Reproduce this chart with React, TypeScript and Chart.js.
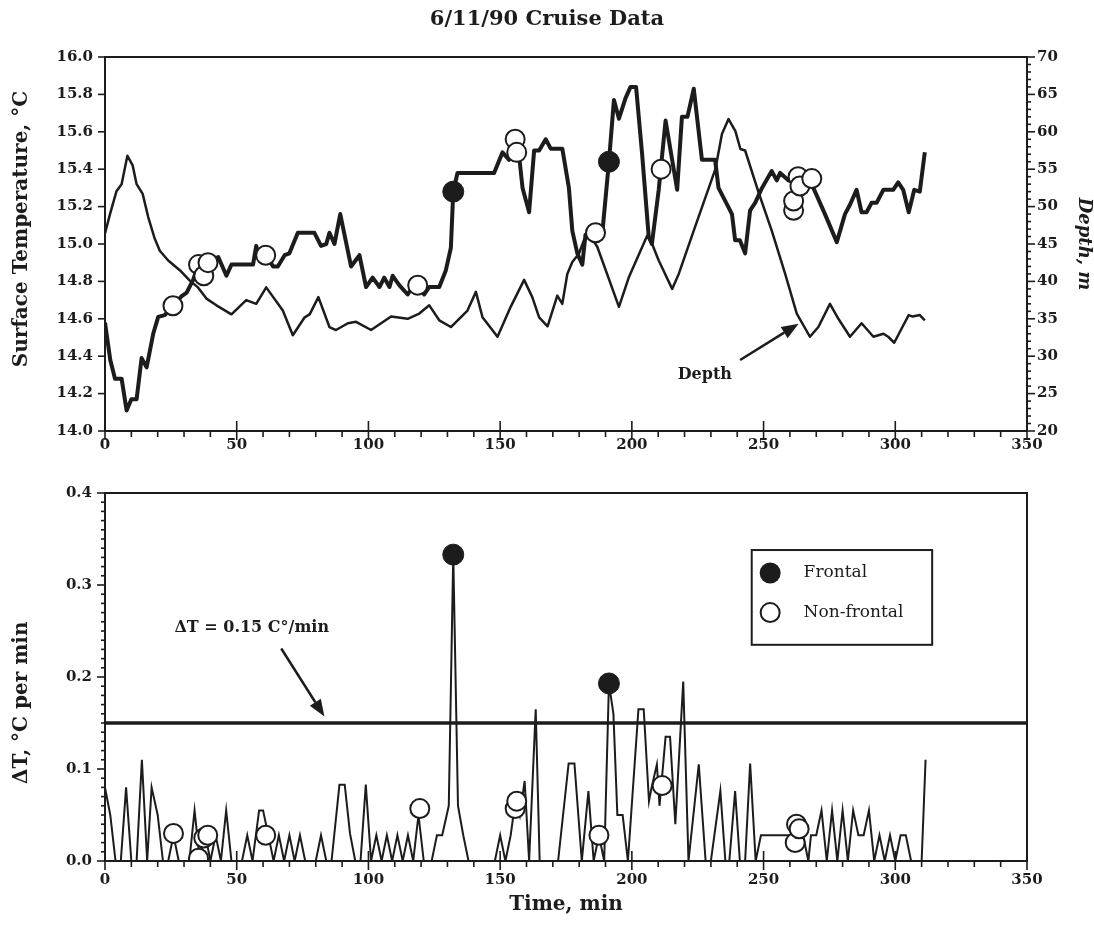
import React, { useEffect, useRef } from 'react';
import { Chart, registerables } from 'chart.js';
Chart.register(...registerables);

const INK = '#1c1c1c';
const SERIF = "'DejaVu Serif', 'Liberation Serif', serif";

// ---------- Top panel: surface temperature (°C) ----------
const tempTime = [0,2,3.8,6.3,8.2,10,12,13.9,15.8,18.3,20.2,22.7,25.8,29,31,33.5,35.5,37.5,39.1,41,43,46.1,48,56.2,57.4,58.7,61,63.8,65.6,68.2,70,73.2,79.5,82,84,85.2,87.1,89.3,93.4,96.6,99.1,101.6,104.2,106,108,109.2,111.7,114.9,116.8,118.7,121.2,123.1,126.9,129.4,131.3,132.2,133.8,147.7,150.9,153.4,155.7,156.3,157.2,158.5,161,162.9,164.8,167.3,169.2,173.6,176.1,177.4,179.3,181.2,182.4,185,188.8,191.3,193.2,195.1,197.6,199.5,201.6,203.9,206.4,207.6,210.2,212.8,217.2,219,221.1,223.5,226.6,231.6,232.9,238,239.2,241,243,244.9,246.8,249.4,253.1,255,256.3,259.5,263,266,268.9,273.3,277.8,280.9,282.8,285.3,287.2,289.1,291,292.9,295.5,299.2,301.1,303,305.1,307.2,309.3,311.2];
const tempValue = [14.58,14.38,14.28,14.28,14.11,14.17,14.17,14.39,14.34,14.52,14.61,14.62,14.67,14.72,14.74,14.81,14.89,14.85,14.90,14.92,14.93,14.83,14.89,14.89,14.99,14.92,14.94,14.88,14.88,14.94,14.95,15.06,15.06,14.99,15.0,15.06,15.0,15.16,14.88,14.94,14.77,14.82,14.77,14.82,14.77,14.83,14.78,14.73,14.77,14.78,14.73,14.77,14.77,14.86,14.98,15.28,15.38,15.38,15.49,15.45,15.55,15.49,15.47,15.30,15.17,15.50,15.50,15.56,15.51,15.51,15.30,15.07,14.95,14.89,15.05,15.05,15.06,15.44,15.77,15.67,15.78,15.84,15.84,15.48,15.04,15.00,15.29,15.66,15.29,15.68,15.68,15.83,15.45,15.45,15.30,15.16,15.02,15.02,14.95,15.18,15.22,15.30,15.39,15.34,15.38,15.34,15.33,15.33,15.30,15.16,15.01,15.16,15.21,15.29,15.17,15.17,15.22,15.22,15.29,15.29,15.33,15.29,15.17,15.29,15.28,15.49];

// Depth (m), right axis
const depthTime = [0,1.9,4.4,6.3,8.5,10.5,12,14.3,16.4,18.9,20.8,24,28.4,32.2,35.3,38.5,42.3,48,53.6,57.4,61.2,67.5,71.3,75.8,77.7,81,85.2,87.7,92.2,95.3,101,108.6,114.9,119.3,123.1,126.9,131.3,137.6,140.8,143.3,149,154,159.1,162.2,164.8,168,171.7,173.6,175.5,177.4,179.9,181.8,184.3,186.9,195.1,198.9,205.8,207.7,210.2,215.3,217.8,223.5,231.7,234.2,236.7,239.3,241.2,243,248.1,253.1,258.2,262.6,267.6,270.8,275.2,278.4,282.8,287.2,291.7,295.5,297.3,299.6,303,305.1,306.6,309.3,311.2];
const depthValue = [46.4,49.0,52.1,53.0,56.8,55.5,53.0,51.7,48.6,45.7,44.1,42.8,41.5,40.1,39.2,37.7,36.8,35.6,37.5,37.0,39.2,36.1,32.8,35.2,35.6,37.9,33.9,33.5,34.4,34.6,33.5,35.3,35.0,35.7,36.8,34.8,33.9,36.1,38.6,35.2,32.6,36.6,40.2,37.9,35.2,34.0,38.1,37.0,41.0,42.6,43.7,45.5,46.1,44.6,36.6,40.6,46.1,45.0,42.8,39.0,41.0,46.8,55.0,59.7,61.7,60.1,57.7,57.5,51.9,46.8,41.0,35.7,32.6,33.9,37.0,35.0,32.6,34.4,32.6,33.0,32.6,31.8,34.1,35.5,35.3,35.5,34.8];

// Event markers on the temperature trace
const frontalTime = [132.2, 191.3];
const frontalTemp = [15.28, 15.44];
const nonFrontalTime = [25.8, 35.5, 37.5, 39.1, 61, 118.7, 155.7, 156.3, 186.2, 211.1, 261.4, 261.4, 263.1, 263.8, 268.3];
const nonFrontalTemp = [14.67, 14.89, 14.83, 14.90, 14.94, 14.78, 15.56, 15.49, 15.06, 15.40, 15.18, 15.23, 15.36, 15.31, 15.35];

// ---------- Bottom panel: ΔT per minute ----------
const dtTime = [0,2,4,6,8,10,12,14,16,17.7,20,22,24,26,28,32,34,36,38,40,42,44,46,48,52,54,56,58.5,60,62,64,66,68,70,72,74,76,80,82,84,86,89,91,93,95,97,99,101,103,105,107,109,111,113,115,117,119,121,124,126,128,130.5,132.2,134,136,138,148,150,152,154,156,157.5,159.3,161,163.5,165,172,176,178.2,181,183.5,185.5,187.5,189.5,191.3,193,194.5,196.5,198.5,202.5,204.5,206.5,207.5,209.5,210.5,212.8,214.5,216.5,219.5,221.5,225.4,228,230,233.6,235.5,237,239.2,241,243,244.9,247,249,261,263,265,267,268,270,272,274,276,278,280,282,284,286,288,290,292,294,296,298,300,302,304,306,310,311.5];
const dtValue = [0.08,0.05,0,0,0.08,0,0,0.11,0,0.08,0.05,0,0,0.028,0,0,0.055,0,0.03,0,0.028,0,0.055,0,0,0.028,0,0.055,0.055,0.028,0,0.028,0,0.028,0,0.028,0,0,0.028,0,0,0.083,0.083,0.03,0,0,0.083,0,0.028,0,0.028,0,0.028,0,0.028,0,0.05,0,0,0.028,0.028,0.06,0.333,0.06,0.028,0,0,0.028,0,0.028,0.07,0.05,0.087,0,0.165,0,0,0.106,0.106,0,0.076,0,0.028,0,0.193,0.16,0.05,0.05,0,0.165,0.165,0.065,0.08,0.105,0.06,0.135,0.135,0.04,0.195,0,0.105,0,0,0.076,0,0,0.076,0,0,0.106,0,0.028,0.028,0.02,0.028,0,0.028,0.028,0.055,0,0.055,0,0.055,0,0.055,0.028,0.028,0.055,0,0.028,0,0.028,0,0.028,0.028,0,0,0.11];
const dtFrontalTime = [132.2, 191.3];
const dtFrontalValue = [0.333, 0.193];
const dtNonFrontalTime = [26, 35.5, 37.5, 39, 61, 119.5, 155.7, 156.3, 187.5, 211.5, 262, 262.5, 263.5];
const dtNonFrontalValue = [0.03, 0.003, 0.025, 0.028, 0.028, 0.057, 0.057, 0.065, 0.028, 0.082, 0.02, 0.04, 0.035];
const threshold = 0.15;

// axis ranges / labels
const timeRange = [0, 350];
const tempRange = [14, 16];
const depthRange = [20, 70];
const dtRange = [0, 0.4];
const titleText = '6/11/90 Cruise Data';
const legendLabels = ['Frontal', 'Non-frontal'];

const pts = (xs: number[], ys: number[]) => xs.map((x, i) => ({ x, y: ys[i] }));

type TickSpec = { id: string; side: 'left' | 'right' | 'bottom'; major: number; minor: number; majorOut: number; majorIn: number; minorOut: number };

function drawTicks(chart: any, spec: TickSpec) {
  const { ctx, chartArea: a } = chart;
  const s = chart.scales[spec.id];
  const n = Math.round((s.max - s.min) / spec.minor);
  ctx.save();
  ctx.strokeStyle = INK;
  ctx.lineWidth = 1.6;
  for (let i = 0; i <= n; i++) {
    const v = s.min + i * spec.minor;
    const r = v / spec.major;
    const isMajor = Math.abs(r - Math.round(r)) < 1e-6;
    const out = isMajor ? spec.majorOut : spec.minorOut;
    const inn = isMajor ? spec.majorIn : 0;
    if (!out && !inn) continue;
    const p = s.getPixelForValue(v);
    ctx.beginPath();
    if (spec.side === 'bottom') { ctx.moveTo(p, a.bottom - inn); ctx.lineTo(p, a.bottom + out); }
    else if (spec.side === 'left') { ctx.moveTo(a.left + inn, p); ctx.lineTo(a.left - out, p); }
    else { ctx.moveTo(a.right - inn, p); ctx.lineTo(a.right + out, p); }
    ctx.stroke();
  }
  ctx.restore();
}

function drawArrow(ctx: any, x1: number, y1: number, x2: number, y2: number) {
  const ang = Math.atan2(y2 - y1, x2 - x1);
  const hl = 17, hw = 6.5;
  const bx = x2 - hl * Math.cos(ang), by = y2 - hl * Math.sin(ang);
  ctx.save();
  ctx.strokeStyle = INK; ctx.fillStyle = INK; ctx.lineWidth = 2.5;
  ctx.beginPath(); ctx.moveTo(x1, y1); ctx.lineTo(bx, by); ctx.stroke();
  ctx.beginPath();
  ctx.moveTo(x2, y2);
  ctx.lineTo(bx + hw * Math.sin(ang), by - hw * Math.cos(ang));
  ctx.lineTo(bx - hw * Math.sin(ang), by + hw * Math.cos(ang));
  ctx.closePath(); ctx.fill();
  ctx.restore();
}

function drawBox(chart: any) {
  const { ctx, chartArea: a } = chart;
  ctx.save();
  ctx.strokeStyle = INK; ctx.lineWidth = 2;
  ctx.strokeRect(a.left, a.top, a.right - a.left, a.bottom - a.top);
  ctx.restore();
}

function drawVTitle(chart: any, text: string, x: number, y: number) {
  const { ctx } = chart;
  ctx.save();
  ctx.translate(x, y);
  ctx.rotate(-Math.PI / 2);
  ctx.font = `bold 20px ${SERIF}`;
  ctx.fillStyle = INK;
  ctx.textAlign = 'center';
  ctx.textBaseline = 'middle';
  ctx.fillText(text, 0, 0);
  ctx.restore();
}

// annotation anchors (data units)
const depthNote = { x: 227.7, y: 14.3, fromX: 241.1, fromY: 14.38, toX: 263.3, toY: 14.574 };
const dtNote = { x: 55.7, y: 0.253, fromX: 66.9, fromY: 0.231, toX: 83.3, toY: 0.157 };
const legendBox = { x0: 245.5, x1: 314, y0: 0.338, y1: 0.235, markX: 252.5, textX: 265.2, rowY: [0.313, 0.27] };
const tempTitleCenter = 15.08;
const dtTitleCenter = 0.172;

const topDecor = {
  id: 'topDecor',
  afterDraw(chart: any) {
    const { ctx } = chart;
    const x = chart.scales.x, yT = chart.scales.yT;
    drawBox(chart);
    drawTicks(chart, { id: 'x', side: 'bottom', major: 50, minor: 10, majorOut: 9, majorIn: 10, minorOut: 6 });
    drawTicks(chart, { id: 'yT', side: 'left', major: 0.2, minor: 0.2, majorOut: 7, majorIn: 0, minorOut: 0 });
    drawTicks(chart, { id: 'yD', side: 'right', major: 5, minor: 1, majorOut: 8, majorIn: 0, minorOut: 4 });
    drawVTitle(chart, 'Surface Temperature, °C', 22, yT.getPixelForValue(tempTitleCenter));
    ctx.save();
    ctx.font = `bold 16px ${SERIF}`;
    ctx.fillStyle = INK;
    ctx.textAlign = 'center';
    ctx.textBaseline = 'middle';
    ctx.fillText('Depth', x.getPixelForValue(depthNote.x), yT.getPixelForValue(depthNote.y));
    ctx.restore();
    drawArrow(ctx, x.getPixelForValue(depthNote.fromX), yT.getPixelForValue(depthNote.fromY), x.getPixelForValue(depthNote.toX), yT.getPixelForValue(depthNote.toY));
  },
};

const bottomDecor = {
  id: 'bottomDecor',
  afterDraw(chart: any) {
    const { ctx } = chart;
    const x = chart.scales.x, y = chart.scales.y;
    drawBox(chart);
    drawTicks(chart, { id: 'x', side: 'bottom', major: 50, minor: 10, majorOut: 9, majorIn: 10, minorOut: 6 });
    drawTicks(chart, { id: 'y', side: 'left', major: 0.1, minor: 0.01, majorOut: 8, majorIn: 0, minorOut: 4 });
    drawVTitle(chart, 'ΔT, °C per min', 22, y.getPixelForValue(dtTitleCenter));
    ctx.save();
    ctx.font = `bold 16px ${SERIF}`;
    ctx.fillStyle = INK;
    ctx.textAlign = 'center';
    ctx.textBaseline = 'middle';
    ctx.fillText('ΔT = 0.15 C°/min', x.getPixelForValue(dtNote.x), y.getPixelForValue(dtNote.y));
    ctx.restore();
    drawArrow(ctx, x.getPixelForValue(dtNote.fromX), y.getPixelForValue(dtNote.fromY), x.getPixelForValue(dtNote.toX), y.getPixelForValue(dtNote.toY));
    // legend
    const lx0 = x.getPixelForValue(legendBox.x0), lx1 = x.getPixelForValue(legendBox.x1);
    const ly0 = y.getPixelForValue(legendBox.y0), ly1 = y.getPixelForValue(legendBox.y1);
    ctx.save();
    ctx.fillStyle = '#fff';
    ctx.fillRect(lx0, ly0, lx1 - lx0, ly1 - ly0);
    ctx.strokeStyle = INK; ctx.lineWidth = 2;
    ctx.strokeRect(lx0, ly0, lx1 - lx0, ly1 - ly0);
    const mx = x.getPixelForValue(legendBox.markX);
    legendLabels.forEach((lab, i) => {
      const py = y.getPixelForValue(legendBox.rowY[i]);
      ctx.beginPath();
      ctx.arc(mx, py, i === 0 ? 10.5 : 9.5, 0, Math.PI * 2);
      if (i === 0) { ctx.fillStyle = INK; ctx.fill(); }
      else { ctx.fillStyle = '#fff'; ctx.fill(); ctx.lineWidth = 2; ctx.strokeStyle = INK; ctx.stroke(); }
      ctx.fillStyle = INK;
      ctx.font = `17px ${SERIF}`;
      ctx.textAlign = 'left';
      ctx.textBaseline = 'middle';
      ctx.fillText(lab, x.getPixelForValue(legendBox.textX), py);
    });
    ctx.restore();
  },
};

const tickFont = { family: SERIF, size: 15, weight: 'bold' as const };

function xScale(height: number, pad: number, title?: string) {
  return {
    type: 'linear' as const,
    position: 'bottom' as const,
    min: timeRange[0], max: timeRange[1],
    grid: { display: false, drawTicks: false },
    border: { display: false },
    ticks: { stepSize: 50, font: tickFont, color: INK, padding: pad, maxRotation: 0, autoSkip: false },
    title: title
      ? { display: true, text: title, font: { family: SERIF, size: 20, weight: 'bold' as const }, color: INK, padding: { top: 0, bottom: 16 } }
      : { display: false },
    afterFit: (s: any) => { s.height = height; },
  };
}

export default function App() {
  const topRef = useRef<HTMLCanvasElement>(null);
  const botRef = useRef<HTMLCanvasElement>(null);

  useEffect(() => {
    const top = new Chart(topRef.current!, {
      type: 'scatter',
      data: {
        datasets: [
          { label: 'Frontal', data: pts(frontalTime, frontalTemp), yAxisID: 'yT', showLine: false, pointRadius: 10.5, pointBackgroundColor: INK, pointBorderColor: INK, pointBorderWidth: 1 },
          { label: 'Non-frontal', data: pts(nonFrontalTime, nonFrontalTemp), yAxisID: 'yT', showLine: false, pointRadius: 9.5, pointBackgroundColor: '#fff', pointBorderColor: INK, pointBorderWidth: 2 },
          { label: 'Temperature', data: pts(tempTime, tempValue), yAxisID: 'yT', showLine: true, pointRadius: 0, borderColor: INK, borderWidth: 4, borderJoinStyle: 'round', tension: 0 },
          { label: 'Depth', data: pts(depthTime, depthValue), yAxisID: 'yD', showLine: true, pointRadius: 0, borderColor: INK, borderWidth: 2.5, borderJoinStyle: 'round', tension: 0 },
        ],
      },
      options: {
        animation: false,
        responsive: false,
        events: [],
        layout: { padding: 0 },
        plugins: {
          legend: { display: false },
          tooltip: { enabled: false },
          title: { display: true, text: titleText, color: INK, font: { family: SERIF, size: 21, weight: 'bold' }, padding: { top: 7, bottom: 24.8 } },
        },
        scales: {
          x: xScale(31, 5),
          yT: {
            type: 'linear', position: 'left', min: tempRange[0], max: tempRange[1],
            grid: { display: false, drawTicks: false }, border: { display: false },
            ticks: { stepSize: 0.2, font: tickFont, color: INK, padding: 12, callback: (v: any) => Number(v).toFixed(1) },
            afterFit: (s: any) => { s.width = 105; },
          },
          yD: {
            type: 'linear', position: 'right', min: depthRange[0], max: depthRange[1],
            grid: { display: false, drawTicks: false }, border: { display: false },
            ticks: { stepSize: 5, font: tickFont, color: INK, padding: 10 },
            title: { display: true, text: 'Depth, m', color: INK, font: { family: SERIF, size: 18, weight: 'bold', style: 'italic' }, padding: { top: 0, bottom: 0 } },
            afterFit: (s: any) => { s.width = 67; },
          },
        },
      } as any,
      plugins: [topDecor],
    });

    const bot = new Chart(botRef.current!, {
      type: 'scatter',
      data: {
        datasets: [
          { label: 'Frontal', data: pts(dtFrontalTime, dtFrontalValue), showLine: false, pointRadius: 10.5, pointBackgroundColor: INK, pointBorderColor: INK, pointBorderWidth: 1 },
          { label: 'Non-frontal', data: pts(dtNonFrontalTime, dtNonFrontalValue), showLine: false, pointRadius: 9.5, pointBackgroundColor: '#fff', pointBorderColor: INK, pointBorderWidth: 2 },
          { label: 'ΔT', data: pts(dtTime, dtValue), showLine: true, pointRadius: 0, borderColor: INK, borderWidth: 2, tension: 0 },
          { label: 'Threshold', data: [{ x: timeRange[0], y: threshold }, { x: timeRange[1], y: threshold }], showLine: true, pointRadius: 0, borderColor: INK, borderWidth: 3.5 },
        ],
      },
      options: {
        animation: false,
        responsive: false,
        events: [],
        layout: { padding: { top: 31, right: 67, left: 0, bottom: 0 } },
        plugins: { legend: { display: false }, tooltip: { enabled: false }, title: { display: false } },
        scales: {
          x: xScale(72, 10, 'Time, min'),
          y: {
            type: 'linear', position: 'left', min: dtRange[0], max: dtRange[1],
            grid: { display: false, drawTicks: false }, border: { display: false },
            ticks: { stepSize: 0.1, font: tickFont, color: INK, padding: 13, callback: (v: any) => Number(v).toFixed(1) },
            afterFit: (s: any) => { s.width = 105; },
          },
        },
      } as any,
      plugins: [bottomDecor],
    });

    return () => { top.destroy(); bot.destroy(); };
  }, []);

  return (
    <div style={{ position: 'absolute', left: 0, top: 0, width: 1094, height: 933, background: '#fff' }}>
      <canvas ref={topRef} width={1094} height={462} style={{ position: 'absolute', left: 0, top: 0, width: 1094, height: 462 }} />
      <canvas ref={botRef} width={1094} height={471} style={{ position: 'absolute', left: 0, top: 462, width: 1094, height: 471 }} />
    </div>
  );
}
